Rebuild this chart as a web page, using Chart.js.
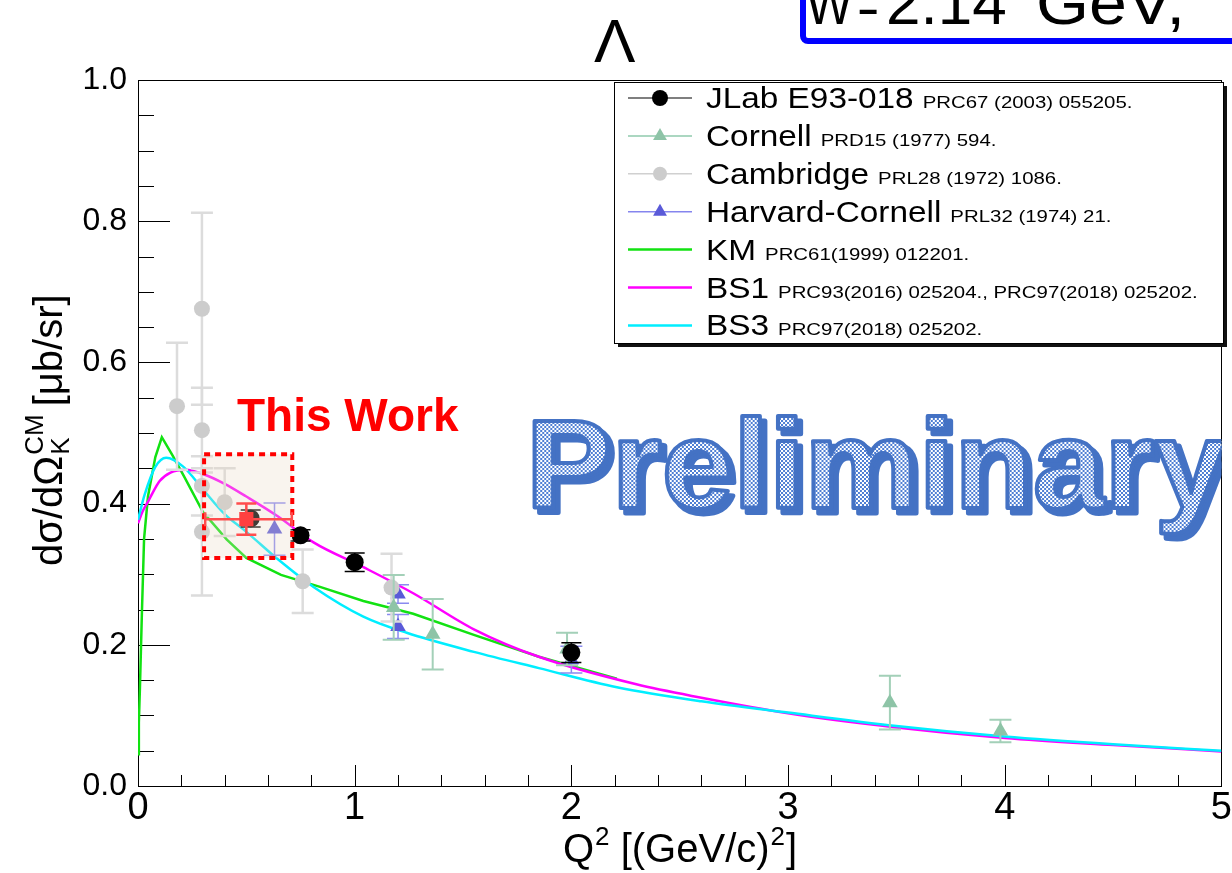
<!DOCTYPE html>
<html>
<head>
<meta charset="utf-8">
<script src="https://cdn.jsdelivr.net/npm/chart.js@4.4.0/dist/chart.umd.min.js"></script>
<style>
  html, body { margin: 0; padding: 0; background: #fff; overflow: hidden; }
</style>
</head>
<body>
<canvas id="chart" width="1232" height="873"></canvas>
<script>
// ===== Data =====
const jlabQ2  = [0.52, 0.75, 1.00, 2.00];
const jlabXs  = [0.379, 0.355, 0.317, 0.189];
const jlabErr = [0.012, 0.008, 0.013, 0.014];

const cornellQ2  = [1.18, 1.36, 1.98, 3.47, 3.98];
const cornellXs  = [0.253, 0.215, 0.194, 0.118, 0.078];
const cornellErr = [0.046, 0.050, 0.023, 0.038, 0.016];

const cambQ2  = [0.18, 0.295, 0.295, 0.295, 0.295, 0.40, 0.76, 1.17];
const cambXs  = [0.538, 0.676, 0.504, 0.425, 0.360, 0.402, 0.290, 0.281];
const cambErr = [0.090, 0.136, 0.060, 0.042, 0.090, 0.048, 0.045, 0.048];

const harvQ2  = [0.63, 1.20, 1.20, 2.00];
const harvXs  = [0.364, 0.272, 0.226, 0.179];
const harvErr = [0.037, 0.013, 0.017, 0.019];

// this work: point, stat error, Q2 bin and systematic box
const thisQ2    = [0.50];
const thisXs    = [0.378];
const thisErr   = [0.022];
const thisQ2Lo  = [0.31];
const thisQ2Hi  = [0.71];
const thisSysQ2 = [0.305, 0.712];
const thisSysXs = [0.323, 0.470];

// model curves
const kmQ2  = [0.0, 0.004, 0.009, 0.018, 0.028, 0.046, 0.08, 0.11, 0.16, 0.21, 0.30, 0.41, 0.50, 0.66, 0.84, 1.04, 1.27, 1.55, 1.85, 2.21];
const kmXs  = [0.045, 0.09, 0.14, 0.245, 0.35, 0.41, 0.466, 0.494, 0.468, 0.44, 0.388, 0.349, 0.323, 0.299, 0.282, 0.262, 0.244, 0.214, 0.183, 0.152];
const bs1Q2 = [0.0, 0.02, 0.05, 0.10, 0.15, 0.22, 0.30, 0.40, 0.50, 0.65, 0.81, 1.04, 1.27, 1.55, 1.85, 2.30, 2.60, 3.00, 3.50, 4.00, 4.50, 5.00];
const bs1Xs = [0.372, 0.388, 0.405, 0.432, 0.444, 0.448, 0.442, 0.428, 0.410, 0.381, 0.345, 0.310, 0.273, 0.222, 0.183, 0.144, 0.125, 0.103, 0.083, 0.068, 0.058, 0.049];
const bs3Q2 = [0.0, 0.03, 0.08, 0.13, 0.21, 0.30, 0.40, 0.50, 0.65, 0.81, 1.04, 1.24, 1.55, 1.85, 2.21, 2.60, 3.00, 3.50, 4.00, 4.50, 5.00];
const bs3Xs = [0.377, 0.412, 0.452, 0.465, 0.452, 0.420, 0.385, 0.360, 0.320, 0.282, 0.240, 0.217, 0.190, 0.167, 0.140, 0.120, 0.104, 0.085, 0.070, 0.059, 0.050];

const xTickValues = [0, 1, 2, 3, 4, 5];
const yTickValues = [0, 0.2, 0.4, 0.6, 0.8, 1.0];

const FONT = '"Liberation Sans", Arial, Helvetica, sans-serif';

function pts(xs, ys) {
    return xs.map((x, i) => ({ x: x, y: ys[i] }));
}

// ===== Frame and ROOT-style inner ticks =====
const frame = {
    id: 'frame',
    beforeDatasetsDraw(chart) {
        const { ctx, chartArea: a, scales: { x, y } } = chart;
        ctx.save();
        ctx.strokeStyle = '#000';
        ctx.lineWidth = 1;
        ctx.beginPath();
        for (let i = 0; i <= 25; i++) {
            const px = Math.round(x.getPixelForValue(i * 0.2)) + 0.5;
            const len = i % 5 === 0 ? 21 : 11;
            ctx.moveTo(px, a.bottom);
            ctx.lineTo(px, a.bottom - len);
        }
        for (let i = 0; i <= 20; i++) {
            const py = Math.round(y.getPixelForValue(i * 0.05)) + 0.5;
            const len = i % 4 === 0 ? 32 : 16;
            ctx.moveTo(a.left, py);
            ctx.lineTo(a.left + len, py);
        }
        ctx.stroke();
        ctx.strokeRect(Math.round(a.left) + 0.5, Math.round(a.top) + 0.5,
            Math.round(a.right - a.left), Math.round(a.bottom - a.top));
        ctx.restore();
    }
};

// ===== Error bars (drawn just before each dataset's markers) =====
const errorBars = {
    id: 'errorBars',
    beforeDatasetDraw(chart, args) {
        const ds = chart.data.datasets[args.index];
        if (!ds.errY) return;
        const { ctx, scales: { x, y } } = chart;
        ctx.save();

        if (ds.sysQ2) {
            const l = x.getPixelForValue(ds.sysQ2[0]), r = x.getPixelForValue(ds.sysQ2[1]);
            const t = y.getPixelForValue(ds.sysXs[1]), b = y.getPixelForValue(ds.sysXs[0]);
            ctx.fillStyle = 'rgba(235,215,195,0.28)';
            ctx.fillRect(l, t, r - l, b - t);
            ctx.strokeStyle = '#ff0000';
            ctx.lineWidth = 4;
            ctx.setLineDash([6, 5]);
            ctx.strokeRect(l, t, r - l, b - t);
            ctx.setLineDash([]);
        }

        ctx.strokeStyle = ds.errColor;
        ctx.lineWidth = ds.errWidth;
        const cap = ds.capHalf;
        ds.data.forEach((p, i) => {
            const px = x.getPixelForValue(p.x);
            const lo = y.getPixelForValue(p.y - ds.errY[i]);
            const hi = y.getPixelForValue(p.y + ds.errY[i]);
            ctx.beginPath();
            ctx.moveTo(px, lo); ctx.lineTo(px, hi);
            ctx.moveTo(px - cap, lo); ctx.lineTo(px + cap, lo);
            ctx.moveTo(px - cap, hi); ctx.lineTo(px + cap, hi);
            if (ds.errXLo) {
                const py = y.getPixelForValue(p.y);
                const xl = x.getPixelForValue(ds.errXLo[i]);
                const xr = x.getPixelForValue(ds.errXHi[i]);
                ctx.moveTo(xl, py); ctx.lineTo(xr, py);
                ctx.moveTo(xl, py - 7); ctx.lineTo(xl, py + 7);
                ctx.moveTo(xr, py - 7); ctx.lineTo(xr, py + 7);
            }
            ctx.stroke();
        });
        ctx.restore();
    }
};

// ===== Legend, titles and labels =====
function stretchedText(ctx, text, x, y, font, sx) {
    ctx.save();
    ctx.font = font;
    ctx.translate(x, y);
    ctx.scale(sx, 1);
    ctx.fillText(text, 0, 0);
    const w = ctx.measureText(text).width * sx;
    ctx.restore();
    return w;
}

const legendOrder = [6, 5, 4, 3, 0, 1, 2];

const decorations = {
    id: 'decorations',
    afterDraw(chart) {
        const { ctx, chartArea: a } = chart;
        ctx.save();
        ctx.textAlign = 'left';
        ctx.textBaseline = 'alphabetic';

        // Preliminary watermark
        ctx.save();
        ctx.beginPath();
        ctx.rect(a.left, a.top, a.right - a.left, a.bottom - a.top);
        ctx.clip();
        const pat = document.createElement('canvas');
        pat.width = 4; pat.height = 4;
        const pc = pat.getContext('2d');
        pc.fillStyle = '#ffffff'; pc.fillRect(0, 0, 4, 4);
        pc.fillStyle = '#4f7fd4'; pc.fillRect(0, 0, 2, 2); pc.fillRect(2, 2, 2, 2);
        const pattern = ctx.createPattern(pat, 'repeat');
        const word = 'Preliminary';
        ctx.font = 'bold 127px ' + FONT;
        const sx = 700 / ctx.measureText(word).width;
        ctx.translate(526, 508);
        ctx.scale(sx, 1);
        ctx.lineJoin = 'round';
        ctx.fillStyle = '#4472c4';
        ctx.strokeStyle = '#4472c4';
        ctx.lineWidth = 5;
        ctx.fillText(word, 5, 5);
        ctx.strokeText(word, 5, 5);
        ctx.fillStyle = pattern;
        ctx.fillText(word, 0, 0);
        ctx.lineWidth = 4;
        ctx.strokeText(word, 0, 0);
        ctx.restore();

        // This Work
        ctx.fillStyle = '#ff0000';
        ctx.font = 'bold 46px ' + FONT;
        ctx.fillText('This Work', 237, 431);

        // legend box
        const lx = 614, ly = 82, lw = 609, lh = 261;
        ctx.fillStyle = '#111';
        ctx.fillRect(lx + 4, ly + 4, lw, lh);
        ctx.fillStyle = '#fff';
        ctx.fillRect(lx, ly, lw, lh);
        ctx.strokeStyle = '#000';
        ctx.lineWidth = 1;
        ctx.strokeRect(lx + 0.5, ly + 0.5, lw, lh);

        legendOrder.forEach((di, row) => {
            const ds = chart.data.datasets[di];
            const cy = 98 + row * 37.9;
            ctx.strokeStyle = ds.legendLine;
            ctx.lineWidth = ds.showLine ? 2.5 : 1.5;
            ctx.beginPath();
            ctx.moveTo(628, cy); ctx.lineTo(692, cy);
            ctx.stroke();
            if (!ds.showLine) {
                ctx.fillStyle = ds.pointBackgroundColor;
                Chart.helpers.drawPoint(ctx, {
                    pointStyle: ds.pointStyle, radius: ds.pointRadius - 1,
                    rotation: 0, borderWidth: 0
                }, 660, cy);
            }
            ctx.fillStyle = '#000';
            const w = stretchedText(ctx, ds.label, 706, cy + 10, '29px ' + FONT, 1.15);
            stretchedText(ctx, ds.ref, 706 + w + 9, cy + 10, '17px ' + FONT, 1.2);
        });

        // y axis title
        ctx.save();
        ctx.fillStyle = '#000';
        ctx.translate(62, 566);
        ctx.rotate(-Math.PI / 2);
        ctx.font = '40px ' + FONT;
        ctx.fillText('dσ/dΩ', 0, 0);
        let cx = ctx.measureText('dσ/dΩ').width + 1;
        ctx.font = '26px ' + FONT;
        ctx.fillText('K', cx, 7);
        ctx.fillText('CM', cx, -19);
        cx += Math.max(ctx.measureText('K').width, ctx.measureText('CM').width) + 8;
        ctx.font = '40px ' + FONT;
        ctx.fillText('[μb/sr]', cx, 0);
        ctx.restore();

        // x axis title
        ctx.fillStyle = '#000';
        let tx = 563;
        ctx.font = '40px ' + FONT;
        ctx.fillText('Q', tx, 862); tx += ctx.measureText('Q').width + 1;
        ctx.font = '26px ' + FONT;
        ctx.fillText('2', tx, 845); tx += ctx.measureText('2').width;
        ctx.font = '40px ' + FONT;
        ctx.fillText(' [(GeV/c)', tx, 862); tx += ctx.measureText(' [(GeV/c)').width + 1;
        ctx.font = '26px ' + FONT;
        ctx.fillText('2', tx, 845); tx += ctx.measureText('2').width + 1;
        ctx.font = '40px ' + FONT;
        ctx.fillText(']', tx, 862);

        // header pieces cut off at the top
        ctx.font = '62px ' + FONT;
        ctx.fillText('Λ', 594, 62);
        ctx.strokeStyle = '#0000ff';
        ctx.lineWidth = 6;
        ctx.beginPath();
        ctx.roundRect(803, -60, 520, 101, 5);
        ctx.stroke();
        stretchedText(ctx, 'W', 806, 24, '58px ' + FONT, 0.85);
        stretchedText(ctx, '=', 858, 24, '58px ' + FONT, 0.6);
        stretchedText(ctx, '2.14', 886, 24, '62px ' + FONT, 1.0);
        stretchedText(ctx, 'GeV,', 1036, 24, '62px ' + FONT, 1.1);

        ctx.restore();
    }
};

// ===== Chart =====
new Chart(document.getElementById('chart'), {
    type: 'scatter',
    data: {
        datasets: [
            {
                label: 'KM', ref: 'PRC61(1999) 012201.',
                data: pts(kmQ2, kmXs), showLine: true, pointRadius: 0,
                borderColor: '#12e212', legendLine: '#12e212', borderWidth: 2.5, order: 9
            },
            {
                label: 'BS1', ref: 'PRC93(2016) 025204., PRC97(2018) 025202.',
                data: pts(bs1Q2, bs1Xs), showLine: true, pointRadius: 0,
                borderColor: '#ff00ff', legendLine: '#ff00ff', borderWidth: 2.5,
                cubicInterpolationMode: 'monotone', order: 8
            },
            {
                label: 'BS3', ref: 'PRC97(2018) 025202.',
                data: pts(bs3Q2, bs3Xs), showLine: true, pointRadius: 0,
                borderColor: '#00eeff', legendLine: '#00eeff', borderWidth: 2.5,
                cubicInterpolationMode: 'monotone', order: 7
            },
            {
                label: 'Harvard-Cornell', ref: 'PRL32 (1974) 21.',
                data: pts(harvQ2, harvXs), errY: harvErr,
                errColor: '#8a8af0', errWidth: 1.5, capHalf: 11, legendLine: '#8585ee',
                pointStyle: 'triangle', pointRadius: 9, pointBorderWidth: 0,
                pointBackgroundColor: '#5a5ad8', order: 6
            },
            {
                label: 'Cambridge', ref: 'PRL28 (1972) 1086.',
                data: pts(cambQ2, cambXs), errY: cambErr,
                errColor: '#dcdcdc', errWidth: 2.5, capHalf: 11, legendLine: '#d0d0d0',
                pointStyle: 'circle', pointRadius: 8, pointBorderWidth: 0,
                pointBackgroundColor: '#cccccc', order: 5
            },
            {
                label: 'Cornell', ref: 'PRD15 (1977) 594.',
                data: pts(cornellQ2, cornellXs), errY: cornellErr,
                errColor: '#a3d0b8', errWidth: 2, capHalf: 11, legendLine: '#8fcaad',
                pointStyle: 'triangle', pointRadius: 9, pointBorderWidth: 0,
                pointBackgroundColor: '#8ec4a7', order: 4
            },
            {
                label: 'JLab E93-018', ref: 'PRC67 (2003) 055205.',
                data: pts(jlabQ2, jlabXs), errY: jlabErr,
                errColor: '#000', errWidth: 1.5, capHalf: 10, legendLine: '#555',
                pointStyle: 'circle', pointRadius: 9, pointBorderWidth: 0,
                pointBackgroundColor: '#000', order: 3
            },
            {
                label: 'This Work', ref: '',
                data: pts(thisQ2, thisXs), errY: thisErr,
                errXLo: thisQ2Lo, errXHi: thisQ2Hi, sysQ2: thisSysQ2, sysXs: thisSysXs,
                errColor: '#ff4d4d', errWidth: 2.5, capHalf: 10, legendLine: '#ff4d4d',
                pointStyle: 'rect', pointRadius: 10, pointBorderWidth: 0,
                pointBackgroundColor: '#ff4040', order: 1
            }
        ]
    },
    options: {
        responsive: false,
        animation: false,
        events: [],
        devicePixelRatio: 1,
        layout: { padding: { top: 80, right: 10, left: 0, bottom: 0 } },
        plugins: { legend: { display: false }, tooltip: { enabled: false } },
        elements: { line: { tension: 0 } },
        scales: {
            x: {
                type: 'linear', min: 0, max: 5,
                grid: { display: false, drawTicks: false },
                border: { display: false },
                afterBuildTicks: s => { s.ticks = xTickValues.map(v => ({ value: v })); },
                afterFit: s => { s.height = 87; },
                ticks: {
                    autoSkip: false, padding: 0, color: '#000',
                    font: { family: FONT, size: 38 },
                    callback: v => String(v)
                }
            },
            y: {
                type: 'linear', min: 0, max: 1,
                grid: { display: false, drawTicks: false },
                border: { display: false },
                afterBuildTicks: s => { s.ticks = yTickValues.map(v => ({ value: v })); },
                afterFit: s => { s.width = 138; },
                ticks: {
                    autoSkip: false, padding: 11, color: '#000',
                    font: { family: FONT, size: 32 },
                    callback: v => v.toFixed(1)
                }
            }
        }
    },
    plugins: [frame, errorBars, decorations]
});
</script>
</body>
</html>
